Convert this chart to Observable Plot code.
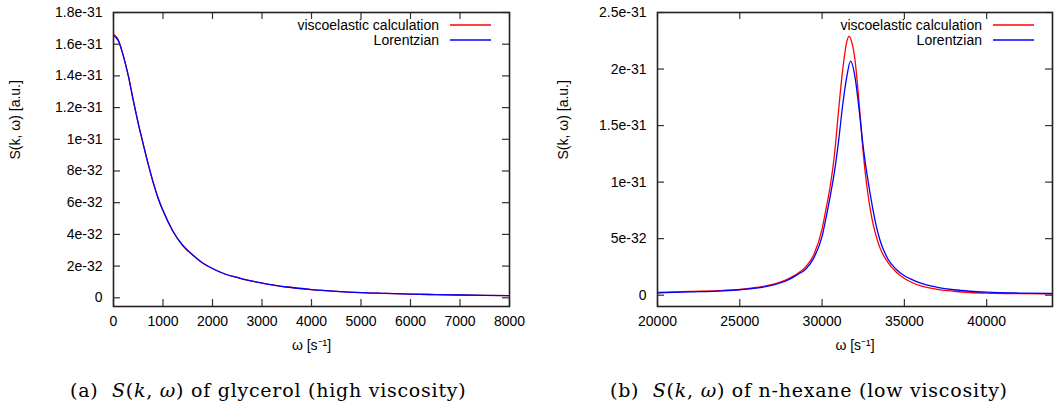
<!DOCTYPE html>
<html>
<head>
<meta charset="utf-8">
<script src="https://cdn.jsdelivr.net/npm/d3@7"></script>
<script src="https://cdn.jsdelivr.net/npm/@observablehq/plot@0.6"></script>
<style>
  html, body { margin: 0; padding: 0; background: #fff; }
  #root { position: relative; width: 1054px; height: 414px; overflow: hidden; background: #fff; }
  .panel { position: absolute; top: 0; }
  .legend { position: absolute; font: 14px "Liberation Sans", Arial, sans-serif; color: #000; }
  .legend .row { position: absolute; right: 0; white-space: nowrap; display: flex; align-items: center; height: 16px; }
  .legend svg { margin-left: 11px; }
  .caption { position: absolute; top: 379px; font: 19px "DejaVu Serif", serif; letter-spacing: 0.75px; color: #000; white-space: nowrap; }
</style>
</head>
<body>
<div id="root"></div>
<script>
// ---------- data ----------
const seriesNames = ["viscoelastic calculation", "Lorentzian"];
const seriesColors = ["#ff0000", "#0000ff"];

// (a) glycerol
const glyOmega = [0,100,200,300,400,500,600,700,800,900,1000,1200,1400,1600,1800,2000,2250,2500,2750,3000,3500,4000,4500,5000,5500,6000,6500,7000,7500,8000];
const glyVisco = [16.65e-32,16.25e-32,15.25e-32,14.0e-32,12.45e-32,11.0e-32,9.7e-32,8.45e-32,7.3e-32,6.3e-32,5.5e-32,4.2e-32,3.3e-32,2.7e-32,2.2e-32,1.85e-32,1.5e-32,1.28e-32,1.08e-32,0.93e-32,0.68e-32,0.52e-32,0.41e-32,0.33e-32,0.28e-32,0.23e-32,0.2e-32,0.175e-32,0.155e-32,0.14e-32];
const glyLorentz = [16.55e-32,16.2e-32,15.25e-32,14.0e-32,12.45e-32,11.0e-32,9.7e-32,8.45e-32,7.3e-32,6.3e-32,5.5e-32,4.2e-32,3.3e-32,2.7e-32,2.2e-32,1.85e-32,1.5e-32,1.28e-32,1.08e-32,0.93e-32,0.68e-32,0.52e-32,0.41e-32,0.33e-32,0.28e-32,0.23e-32,0.2e-32,0.175e-32,0.155e-32,0.14e-32];
const glyXTicks = [0,1000,2000,3000,4000,5000,6000,7000,8000];
const glyXLabels = ["0","1000","2000","3000","4000","5000","6000","7000","8000"];
const glyYTicks = [0,2e-32,4e-32,6e-32,8e-32,1e-31,1.2e-31,1.4e-31,1.6e-31,1.8e-31];
const glyYLabels = ["0","2e-32","4e-32","6e-32","8e-32","1e-31","1.2e-31","1.4e-31","1.6e-31","1.8e-31"];

// (b) n-hexane
const hexOmegaV = [20000,22000,24000,25000,26000,27000,27500,28000,28500,29000,29500,30000,30250,30500,30750,31000,31250,31500,31630,31800,32000,32250,32500,32750,33000,33250,33500,34000,34500,35000,35500,36000,37000,38000,39000,40000,42000,44000];
const hexVisco = [0.24e-32,0.33e-32,0.43e-32,0.52e-32,0.68e-32,0.95e-32,1.18e-32,1.5e-32,1.9e-32,2.5e-32,3.6e-32,5.85e-32,7.7e-32,9.7e-32,12.4e-32,16.3e-32,19.9e-32,22.4e-32,22.88e-32,22.4e-32,20.8e-32,17.0e-32,12.6e-32,9.3e-32,7.0e-32,5.4e-32,4.25e-32,2.9e-32,2.05e-32,1.48e-32,1.1e-32,0.82e-32,0.52e-32,0.35e-32,0.24e-32,0.18e-32,0.13e-32,0.11e-32];
const hexOmegaL = [20000,22000,24000,25000,26000,27000,27500,28000,28500,29000,29500,30000,30250,30500,30750,31000,31250,31500,31730,32000,32250,32500,32750,33000,33250,33500,34000,34500,35000,35500,36000,37000,38000,39000,40000,42000,44000];
const hexLorentz = [0.21e-32,0.29e-32,0.39e-32,0.48e-32,0.62e-32,0.88e-32,1.1e-32,1.4e-32,1.82e-32,2.3e-32,3.3e-32,5.2e-32,6.9e-32,8.8e-32,10.9e-32,13.6e-32,16.8e-32,19.3e-32,20.7e-32,19.3e-32,16.4e-32,13.1e-32,10.5e-32,8.3e-32,6.4e-32,4.95e-32,3.2e-32,2.3e-32,1.72e-32,1.35e-32,1.06e-32,0.7e-32,0.48e-32,0.35e-32,0.27e-32,0.19e-32,0.15e-32];
const hexXTicks = [20000,25000,30000,35000,40000];
const hexXLabels = ["20000","25000","30000","35000","40000"];
const hexYTicks = [0,5e-32,1e-31,1.5e-31,2e-31,2.5e-31];
const hexYLabels = ["0","5e-32","1e-31","1.5e-31","2e-31","2.5e-31"];

const xLabelText = "ω [s⁻¹]";
const yLabelText = "S(k, ω) [a.u.]";
const captions = [
  '(a)&nbsp; <i>S</i>(<i>k</i>, <i>ω</i>) of glycerol (high viscosity)',
  '(b)&nbsp; <i>S</i>(<i>k</i>, <i>ω</i>) of n-hexane (low viscosity)'
];

// ---------- drawing ----------
const W = 527, H = 360, MT = 12, MB = 54, TICK = 7;

function panel(cfg) {
  const pw = W - cfg.ml - cfg.mr, ph = H - MT - MB;
  const rows = (xs, ys, k) => xs.map((x, i) => ({x, y: ys[i], k}));
  const red = rows(cfg.xv, cfg.yv, 0), blue = rows(cfg.xl, cfg.yl, 1);
  return Plot.plot({
    width: W, height: H,
    marginTop: MT, marginBottom: MB, marginLeft: cfg.ml, marginRight: cfg.mr,
    style: {fontFamily: '"Liberation Sans", Arial, sans-serif', fontSize: "14px", color: "#000", background: "transparent", overflow: "visible"},
    x: {domain: cfg.xDomain},
    y: {domain: cfg.yDomain},
    marks: [
      Plot.axisX({ticks: cfg.xTicks, tickSize: 0, tickPadding: 10, tickFormat: d => cfg.xLabels[cfg.xTicks.indexOf(d)], label: null}),
      Plot.axisY({ticks: cfg.yTicks, tickSize: 0, tickPadding: 11, tickFormat: d => cfg.yLabels[cfg.yTicks.indexOf(d)], label: null}),
      Plot.text([xLabelText], {text: d => d, frameAnchor: "bottom", dy: 39, lineAnchor: "middle", fill: "#000"}),
      Plot.text([yLabelText], {text: d => d, frameAnchor: "left", dx: -cfg.yLabelOffset, rotate: -90, lineAnchor: "middle", fill: "#000"}),
      // inward ticks, mirrored on all four sides
      Plot.tickY(cfg.yTicks, {y: d => d, insetRight: pw - TICK, stroke: "#333", strokeWidth: 1.2}),
      Plot.tickY(cfg.yTicks, {y: d => d, insetLeft: pw - TICK, stroke: "#333", strokeWidth: 1.2}),
      Plot.tickX(cfg.xTicks, {x: d => d, insetTop: ph - TICK, stroke: "#333", strokeWidth: 1.2}),
      Plot.tickX(cfg.xTicks, {x: d => d, insetBottom: ph - TICK, stroke: "#333", strokeWidth: 1.2}),
      Plot.line(red, {x: "x", y: "y", stroke: seriesColors[0], strokeWidth: 1.3, curve: "monotone-x", clip: true}),
      Plot.line(blue, {x: "x", y: "y", stroke: seriesColors[1], strokeWidth: 1.3, curve: "monotone-x", clip: true}),
      Plot.frame({stroke: "#222", strokeWidth: 1.6})
    ]
  });
}

const root = document.getElementById("root");

function addPanel(left, cfg) {
  const wrap = document.createElement("div");
  wrap.className = "panel";
  wrap.style.left = left + "px";
  wrap.appendChild(panel(cfg));
  root.appendChild(wrap);
  const lg = document.createElement("div");
  lg.className = "legend";
  lg.style.left = "0px";
  lg.style.top = "0px";
  lg.style.width = (left + W - cfg.mr - 18) + "px";
  seriesNames.forEach((name, i) => {
    const r = document.createElement("div");
    r.className = "row";
    r.style.top = (17 + i * 15) + "px";
    r.innerHTML = `<span>${name}</span><svg width="41" height="4"><line x1="0" x2="41" y1="2" y2="2" stroke="${seriesColors[i]}" stroke-width="1.5"/></svg>`;
    lg.appendChild(r);
  });
  root.appendChild(lg);
}

addPanel(0, {xv: glyOmega, yv: glyVisco, xl: glyOmega, yl: glyLorentz,
  xDomain: [0, 8000], yDomain: [-5.5e-33, 1.8e-31],
  xTicks: glyXTicks, xLabels: glyXLabels, yTicks: glyYTicks, yLabels: glyYLabels,
  ml: 113, mr: 18, yLabelOffset: 98});
addPanel(527, {xv: hexOmegaV, yv: hexVisco, xl: hexOmegaL, yl: hexLorentz,
  xDomain: [20000, 44000], yDomain: [-1e-32, 2.5e-31],
  xTicks: hexXTicks, xLabels: hexXLabels, yTicks: hexYTicks, yLabels: hexYLabels,
  ml: 130, mr: 2, yLabelOffset: 94});

captions.forEach((c, i) => {
  const d = document.createElement("div");
  d.className = "caption";
  d.style.left = (i === 0 ? 70 : 610) + "px";
  d.innerHTML = c;
  root.appendChild(d);
});
</script>
</body>
</html>
